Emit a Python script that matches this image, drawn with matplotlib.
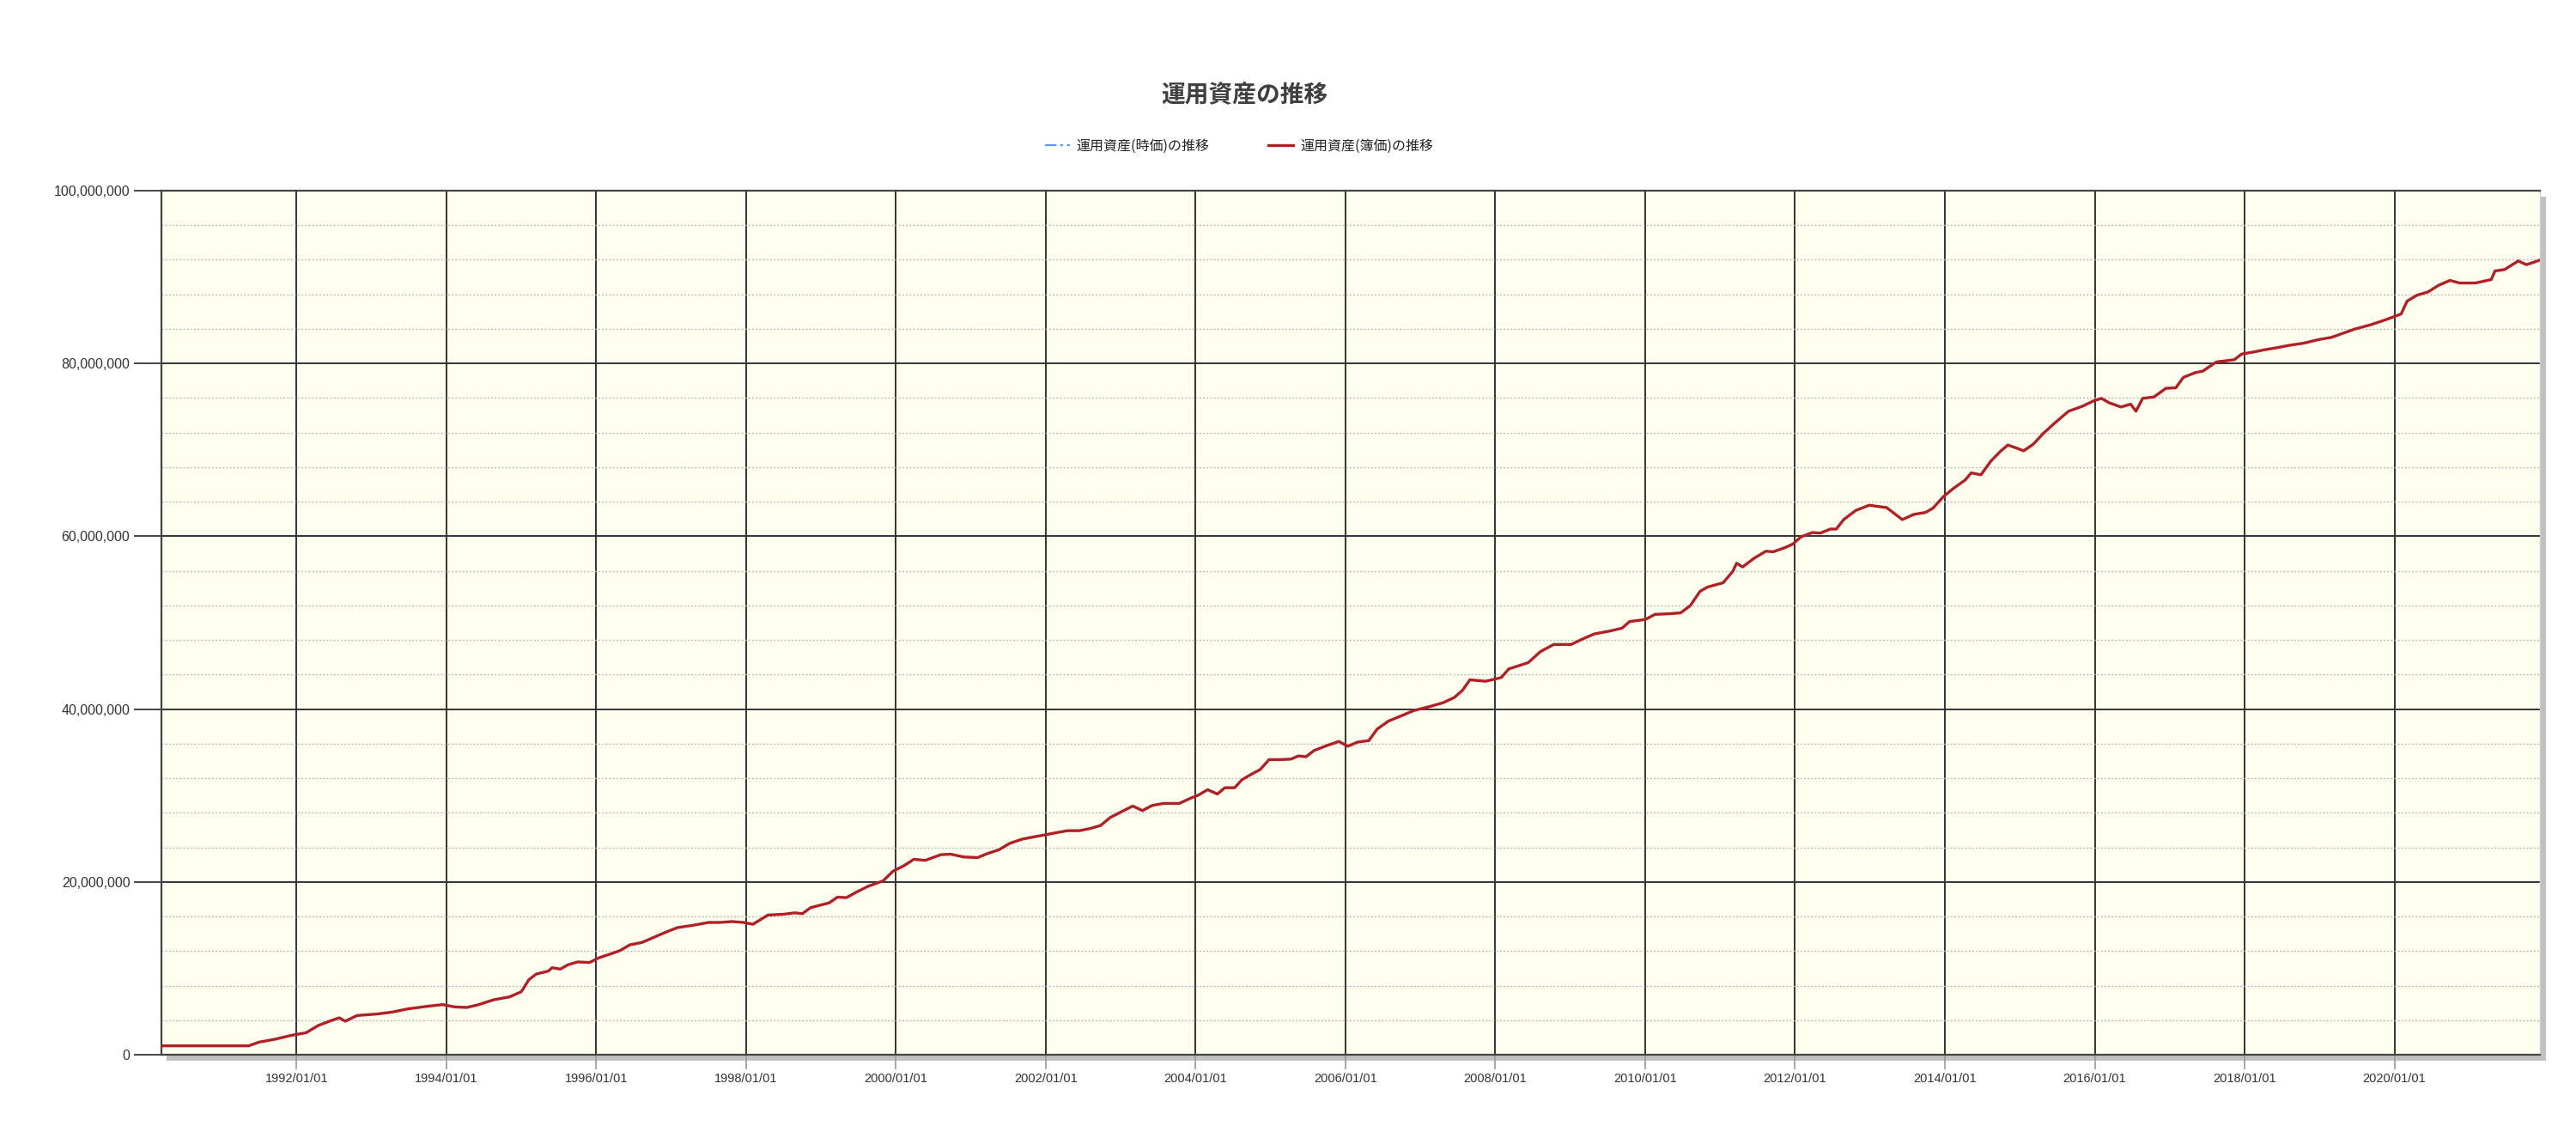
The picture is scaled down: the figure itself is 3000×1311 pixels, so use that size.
import datetime as dt
import matplotlib
matplotlib.use("Agg")
import matplotlib.pyplot as plt
import matplotlib.dates as mdates
import matplotlib.ticker as mticker
import matplotlib.patheffects as pe

plt.rcParams['font.family'] = ['Noto Sans CJK JP', 'DejaVu Sans']

# ---- data ----
title = "運用資産の推移"
series_names = ["運用資産(時価)の推移", "運用資産(簿価)の推移"]

# time in decimal years, value in millions of yen
years = [
    1990.19, 1991.36, 1991.50, 1991.71, 1991.92, 1992.13, 1992.29, 1992.44, 1992.57, 1992.65,
    1992.81, 1993.07, 1993.28, 1993.48, 1993.74, 1993.95, 1994.11, 1994.27, 1994.42, 1994.63,
    1994.84, 1995.00, 1995.10, 1995.20, 1995.36, 1995.41, 1995.52, 1995.62, 1995.75, 1995.91,
    1996.04, 1996.19, 1996.32, 1996.45, 1996.61, 1996.77, 1996.92, 1997.08, 1997.29, 1997.50,
    1997.65, 1997.81, 1997.96, 1998.09, 1998.29, 1998.50, 1998.65, 1998.75, 1998.86, 1999.11,
    1999.22, 1999.34, 1999.47, 1999.63, 1999.83, 1999.96, 2000.11, 2000.24, 2000.39, 2000.60,
    2000.73, 2000.91, 2001.09, 2001.22, 2001.37, 2001.52, 2001.68, 2001.83, 2001.98, 2002.14,
    2002.29, 2002.45, 2002.60, 2002.73, 2002.86, 2003.01, 2003.16, 2003.29, 2003.42, 2003.57,
    2003.78, 2003.93, 2004.03, 2004.16, 2004.29, 2004.39, 2004.52, 2004.62, 2004.75, 2004.86,
    2004.98, 2005.11, 2005.27, 2005.37, 2005.47, 2005.58, 2005.76, 2005.91, 2006.03, 2006.16,
    2006.31, 2006.42, 2006.57, 2006.73, 2006.91, 2007.14, 2007.30, 2007.45, 2007.56, 2007.66,
    2007.87, 2008.08, 2008.18, 2008.44, 2008.60, 2008.78, 2009.01, 2009.17, 2009.32, 2009.53,
    2009.69, 2009.79, 2010.00, 2010.13, 2010.31, 2010.47, 2010.60, 2010.73, 2010.83, 2011.04,
    2011.17, 2011.22, 2011.30, 2011.45, 2011.61, 2011.71, 2011.87, 2011.97, 2012.08, 2012.23,
    2012.34, 2012.47, 2012.55, 2012.65, 2012.81, 2012.99, 2013.22, 2013.38, 2013.43, 2013.58,
    2013.74, 2013.84, 2013.98, 2014.11, 2014.27, 2014.35, 2014.48, 2014.61, 2014.74, 2014.84,
    2014.97, 2015.05, 2015.18, 2015.31, 2015.47, 2015.65, 2015.83, 2015.99, 2016.09, 2016.19,
    2016.35, 2016.48, 2016.55, 2016.64, 2016.79, 2016.95, 2017.08, 2017.18, 2017.34, 2017.44,
    2017.62, 2017.86, 2017.96, 2018.12, 2018.27, 2018.43, 2018.59, 2018.79, 2018.98, 2019.16,
    2019.31, 2019.47, 2019.68, 2019.83, 2019.99, 2020.09, 2020.17, 2020.30, 2020.45, 2020.59,
    2020.74, 2020.87, 2021.08, 2021.29, 2021.34, 2021.47, 2021.65, 2021.76, 2021.94,
]
book_value_m = [
    1.03, 1.03, 1.46, 1.79, 2.22, 2.55, 3.38, 3.88, 4.27, 3.88,
    4.54, 4.71, 4.94, 5.30, 5.60, 5.80, 5.53, 5.47, 5.77, 6.36,
    6.69, 7.29, 8.68, 9.34, 9.68, 10.07, 9.91, 10.40, 10.74, 10.67,
    11.23, 11.66, 12.06, 12.72, 12.99, 13.59, 14.15, 14.71, 14.98, 15.31,
    15.31, 15.41, 15.31, 15.10, 16.16, 16.26, 16.42, 16.32, 17.02, 17.58,
    18.24, 18.18, 18.81, 19.50, 20.13, 21.23, 21.89, 22.62, 22.49, 23.15,
    23.21, 22.88, 22.82, 23.28, 23.71, 24.47, 24.94, 25.20, 25.43, 25.70,
    25.93, 25.93, 26.20, 26.53, 27.46, 28.12, 28.78, 28.25, 28.85, 29.08,
    29.08, 29.68, 30.01, 30.67, 30.17, 30.90, 30.90, 31.83, 32.49, 32.99,
    34.15, 34.15, 34.21, 34.58, 34.48, 35.21, 35.81, 36.25, 35.70, 36.18,
    36.35, 37.67, 38.60, 39.17, 39.83, 40.33, 40.73, 41.33, 42.16, 43.39,
    43.22, 43.65, 44.65, 45.38, 46.64, 47.48, 47.48, 48.14, 48.70, 49.04,
    49.37, 50.13, 50.37, 50.96, 51.03, 51.13, 51.96, 53.62, 54.12, 54.62,
    55.95, 56.88, 56.45, 57.44, 58.27, 58.21, 58.70, 59.10, 59.93, 60.43,
    60.37, 60.83, 60.83, 61.93, 62.99, 63.59, 63.32, 62.26, 61.93, 62.52,
    62.76, 63.26, 64.60, 65.52, 66.51, 67.34, 67.11, 68.67, 69.83, 70.56,
    70.16, 69.89, 70.66, 71.88, 73.14, 74.47, 75.03, 75.69, 75.96, 75.46,
    74.96, 75.29, 74.47, 75.96, 76.12, 77.12, 77.18, 78.38, 78.94, 79.11,
    80.17, 80.43, 81.09, 81.33, 81.59, 81.82, 82.09, 82.35, 82.75, 83.02,
    83.48, 83.98, 84.47, 84.90, 85.40, 85.73, 87.22, 87.89, 88.28, 89.05,
    89.61, 89.31, 89.31, 89.71, 90.70, 90.87, 91.86, 91.43, 91.96,
]
# market value line lies (almost) exactly under the book value line
market_value_m = list(book_value_m)

xtick_years = list(range(1992, 2021, 2))
x_start, x_end = 1990.19, 2021.94
y_max = 100_000_000


def to_date(y):
    yi = int(y)
    return dt.datetime(yi, 1, 1) + dt.timedelta(days=(y - yi) * 365.25)


dates = [to_date(y) for y in years]
book = [v * 1e6 for v in book_value_m]
market = [v * 1e6 for v in market_value_m]

fig = plt.figure(figsize=(30, 13.11), dpi=100)
ax = fig.add_axes([0.0625, 0.0633, 0.9235, 0.7674])
ax.set_facecolor('#FFFFF0')
ax.patch.set_path_effects([pe.SimplePatchShadow(offset=(5, -5), shadow_rgbFace='#999999', alpha=0.6),
                           pe.Normal()])

l1, = ax.plot(dates, market, color='#6495ED', lw=1.6, ls=(0, (6, 2, 1.5, 2)), zorder=3)
l2, = ax.plot(dates, book, color='#B22025', lw=2.4, zorder=4)

ax.set_xlim(to_date(x_start), to_date(x_end))
ax.set_ylim(0, y_max)

ax.set_xticks([dt.datetime(y, 1, 1) for y in xtick_years])
ax.xaxis.set_major_formatter(mdates.DateFormatter('%Y/%m/%d'))
ax.yaxis.set_major_locator(mticker.MultipleLocator(20_000_000))
ax.yaxis.set_minor_locator(mticker.MultipleLocator(4_000_000))
ax.yaxis.set_major_formatter(mticker.FuncFormatter(lambda v, p: f"{int(v):,}"))

ax.grid(axis='x', which='major', color='#333333', lw=1.4, ls='-')
ax.grid(axis='y', which='major', color='#333333', lw=1.4, ls='-')
ax.grid(axis='y', which='minor', color='#BBBBBB', lw=1.0, ls=(0, (1.5, 1.5)))
ax.set_axisbelow(True)

ax.tick_params(axis='x', which='major', direction='out', length=12, width=1.2,
               color='#999999', pad=3, labelsize=10.5, labelcolor='#333333')
ax.tick_params(axis='y', which='major', direction='out', length=23, width=1.4,
               color='#444444', pad=3, labelsize=11.5, labelcolor='#333333')
ax.tick_params(axis='y', which='minor', length=0)
for lab in ax.get_xticklabels() + ax.get_yticklabels():
    lab.set_fontfamily(['Liberation Sans', 'DejaVu Sans'])

for side in ['left', 'top', 'bottom']:
    ax.spines[side].set_color('#444444')
    ax.spines[side].set_linewidth(1.6)
ax.spines['right'].set_color('#CCCCCC')
ax.spines['right'].set_linewidth(1.0)

fig.text(0.483, 0.915, title, ha='center', va='center', fontsize=20,
         fontweight='bold', color='#404040')

fig.legend([l1, l2], series_names, loc='center', bbox_to_anchor=(0.481, 0.870),
           ncol=2, frameon=False, fontsize=11.5, handlelength=1.8, handletextpad=0.5,
           columnspacing=4.3, labelcolor='#222222')

fig.savefig('out.png', dpi=100)
